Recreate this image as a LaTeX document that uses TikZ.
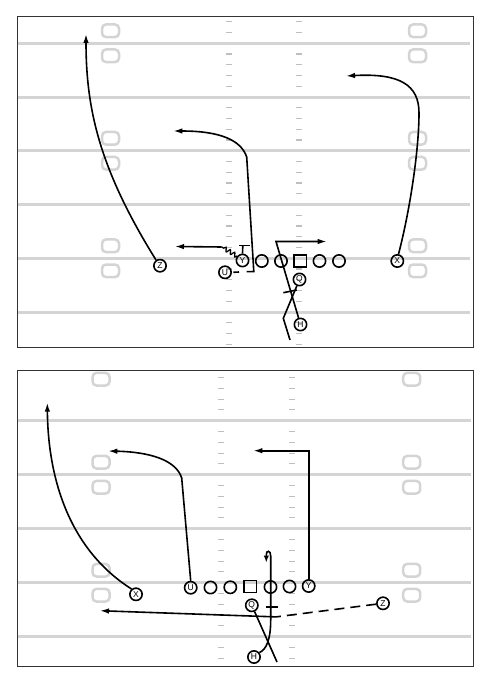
\documentclass[tikz,border=0pt]{standalone}
\usepackage{fontspec}
\setsansfont{Liberation Sans}
\usetikzlibrary{arrows.meta,decorations.pathmorphing}
\begin{document}
\begin{tikzpicture}[x=1pt,y=-1pt,
  yard/.style={draw=black!17, line width=3pt},
  hashm/.style={draw=black!25, line width=1.1pt},
  numbox/.style={draw=black!17, line width=2.5pt, rounded corners=4pt},
  frame/.style={draw=black!80, line width=1pt},
  pl/.style={circle, draw=black, line width=1.6pt, minimum size=12.3pt, inner sep=0pt, font=\sffamily\fontsize{8.5}{8.5}\selectfont},
  ol/.style={circle, draw=black, line width=1.6pt, minimum size=12.3pt, inner sep=0pt},
  ctr/.style={rectangle, draw=black, line width=1.6pt, minimum size=12.3pt, inner sep=0pt},
  route/.style={draw=black, line width=1.6pt},
  arr/.style={route, -{Latex[length=9pt,width=5.5pt]}},
  motion/.style={route, dash pattern=on 10pt off 6pt},
  wavy/.style={route, line width=1.3pt, decorate, decoration={snake, segment length=5pt, amplitude=2pt}}
]
\useasboundingbox (0,0) rectangle (492,692);

% ---------------- top field ----------------
\begin{scope}
  \clip (17.5,17) rectangle (473,347.3);
  \foreach \n in {-1,...,5}{
    \foreach \k in {1,...,4}{
      \pgfmathsetmacro{\yy}{43.3+53.74*\n+10.75*\k}
      \draw[hashm] (225.5,\yy) -- (231.5,\yy);
      \draw[hashm] (296,\yy) -- (302,\yy);
    }
  }
  \foreach \yy in {43.3,97.1,150.8,204.5,258.3,312}{
    \draw[yard] (17.5,\yy) -- (470,\yy);
  }
  \foreach \yy in {43.3,150.8,258.3}{
    \foreach \xx in {110.5,417.5}{
      \draw[numbox] (\xx-8.5,\yy-12.5-6.3) rectangle (\xx+8.5,\yy-12.5+6.3);
      \draw[numbox] (\xx-8.5,\yy+12.5-6.3) rectangle (\xx+8.5,\yy+12.5+6.3);
    }
  }
\end{scope}
\draw[frame] (17.5,17) rectangle (473,347.3);

% ---------------- bottom field ----------------
\begin{scope}
  \clip (17.3,370) rectangle (473.3,666.7);
  \foreach \n in {-1,...,4}{
    \foreach \k in {1,...,4}{
      \pgfmathsetmacro{\yy}{420.7+54*\n+10.8*\k}
      \draw[hashm] (217.7,\yy) -- (223.7,\yy);
      \draw[hashm] (289.3,\yy) -- (295.3,\yy);
    }
  }
  \foreach \yy in {420.7,474.7,528.7,582.7,636.7}{
    \draw[yard] (17.3,\yy) -- (470.5,\yy);
  }
  \foreach \yy in {366.7,474.7,582.7}{
    \foreach \xx in {101,411.7}{
      \draw[numbox] (\xx-8.5,\yy-12.5-6.3) rectangle (\xx+8.5,\yy-12.5+6.3);
      \draw[numbox] (\xx-8.5,\yy+12.5-6.3) rectangle (\xx+8.5,\yy+12.5+6.3);
    }
  }
\end{scope}
\draw[frame] (17.3,370) rectangle (473.3,666.7);

% ---------------- top players ----------------
\node[pl] (tZ) at (160,265.7) {Z};
\node[pl] (tU) at (225,272.3) {U};
\node[pl] (tY) at (242.5,260.5) {Y};
\node[ol] (tL1) at (261.8,261) {};
\node[ol] (tL2) at (281,261) {};
\node[ctr] (tC) at (300.2,261) {};
\node[ol] (tR1) at (319.5,261) {};
\node[ol] (tR2) at (339,261) {};
\node[pl] (tQ) at (299.5,279.5) {Q};
\node[pl] (tH) at (300.5,324.5) {H};
\node[pl] (tX) at (397.3,261) {X};

% top routes
\coordinate (tZend) at (86,34);
\draw[arr] (tZ.125) .. controls (100,170) and (86,110) .. (tZend);

\coordinate (tXmid) at (419,113);
\coordinate (tXend) at (346,76);
\draw[arr] (tX.80) .. controls (410,210) and (419,150) .. (tXmid)
  .. controls (419,85) and (400,73) .. (tXend);

\coordinate (tUa) at (239,272);
\coordinate (tUb) at (246.7,271.6);
\coordinate (tUc) at (253.8,271.6);
\coordinate (tUd) at (246.7,157);
\coordinate (tUend) at (173.3,131);
\draw[route] ([xshift=1.5pt]tU.east) -- (tUa);
\draw[arr] (tUb) -- (tUc) -- (tUd) .. controls (241,140) and (220,131) .. (tUend);

\coordinate (tYb) at (242.8,245.5);
\coordinate (tYbl) at (239,245.5);
\coordinate (tYbr) at (250,245.5);
\draw[route] (tY.north) -- (tYb);
\draw[route] (tYbl) -- (tYbr);
\coordinate (tYw) at (221.7,247);
\coordinate (tYend) at (175,246.5);
\draw[wavy] (tY.140) -- (tYw);
\draw[arr] (tYw) -- (tYend);

\coordinate (tHa) at (276,241.5);
\coordinate (tHend) at (326.7,241.5);
\draw[arr] (tH) -- (tHa) -- (tHend);

\coordinate (tQa) at (283.3,318.3);
\coordinate (tQend) at (290,340);
\draw[route] (tQ) -- (tQa) -- (tQend);
\coordinate (tBa) at (283.3,292.7);
\coordinate (tBb) at (296.7,290);
\draw[route] (tBa) -- (tBb);

% ---------------- bottom players ----------------
\node[pl] (bX) at (136,594.3) {X};
\node[pl] (bU) at (190.7,587.7) {U};
\node[ol] (bL1) at (210.5,587.5) {};
\node[ol] (bL2) at (230.3,587.3) {};
\node[ctr] (bC) at (250.2,586.5) {};
\node[ol] (bR1) at (270.5,587) {};
\node[ol] (bR2) at (289.5,586.5) {};
\node[pl] (bY) at (308.7,586) {Y};
\node[pl] (bQ) at (251.8,605.3) {Q};
\node[pl] (bH) at (254,657) {H};
\node[pl] (bZ) at (383,603.3) {Z};

% bottom routes
\coordinate (bXend) at (47.3,402.7);
\draw[arr] (bX.130) .. controls (70,550) and (48,480) .. (bXend);

\coordinate (bUa) at (181.7,478);
\coordinate (bUend) at (108.3,451);
\draw[arr] (bU.north) -- (bUa) .. controls (176,460) and (150,452) .. (bUend);

\coordinate (bYa) at (308.7,450.7);
\coordinate (bYend) at (253.3,450.7);
\draw[arr] (bY.north) -- (bYa) -- (bYend);

\coordinate (bZa) at (276,616.9);
\coordinate (bZend) at (100,610.7);
\draw[motion] (bZ) -- (bZa);
\draw[arr] (bZa) -- (bZend);

\coordinate (bBa) at (265.5,606.7);
\coordinate (bBb) at (277.5,606.7);
\draw[route] (bBa) -- (bBb);

\coordinate (bHa) at (270.7,620);
\coordinate (bHb) at (270.7,556);
\coordinate (bHc) at (266.3,554.5);
\coordinate (bHend) at (266.3,562.5);
\draw[route, -{Latex[length=7pt,width=5.5pt]}] (bH.40) .. controls (266,650) and (270.7,640) .. (bHa) -- (bHb)
  .. controls (270.7,550) and (266.3,550) .. (bHc) -- (bHend);

\coordinate (bQend) at (277,662);
\draw[route] (bQ) -- (bQend);
\end{tikzpicture}
\end{document}
